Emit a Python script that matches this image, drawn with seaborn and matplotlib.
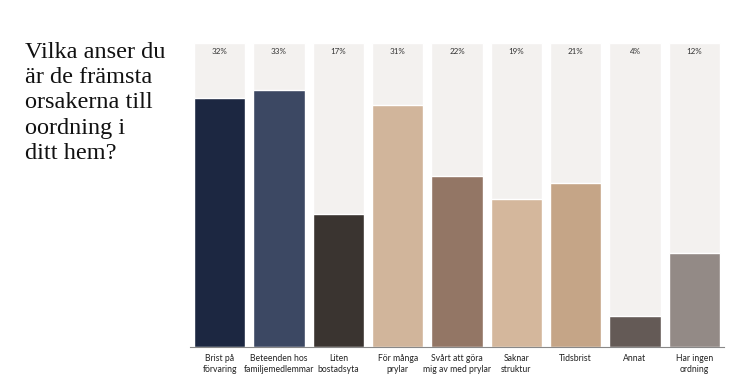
import numpy as np
import pandas as pd
import matplotlib
matplotlib.use("Agg")
import matplotlib.pyplot as plt
import seaborn as sns

# data
categories = [
    "Brist på\nförvaring",
    "Beteenden hos\nfamiljemedlemmar",
    "Liten\nbostadsyta",
    "För många\nprylar",
    "Svårt att göra\nmig av med prylar",
    "Saknar\nstruktur",
    "Tidsbrist",
    "Annat",
    "Har ingen\nordning",
]
values = [32, 33, 17, 31, 22, 19, 21, 4, 12]
colors = ["#1c2741", "#3c4863", "#3a3430", "#d1b59b", "#937665",
          "#d4b79c", "#c5a587", "#645a56", "#938a86"]
scale_max = 39
title = "Vilka anser du\när de främsta\norsakerna till\noordning i\nditt hem?"

df = pd.DataFrame({"category": categories, "value": values})
df["full"] = scale_max

sns.set_style("white")
plt.rcParams["font.family"] = ["Lato", "DejaVu Sans"]

fig = plt.figure(figsize=(7.46, 3.9), dpi=100)
ax = fig.add_axes([0.2547, 0.1103, 0.9705 - 0.2547, 0.8897 - 0.1103])

# light background bars
sns.barplot(data=df, x="category", y="full", color="#f3f1ef",
            width=0.87, saturation=1, ax=ax)
# data bars
sns.barplot(data=df, x="category", y="value", hue="category",
            palette=colors, width=0.87, saturation=1, legend=False, ax=ax)

for i, v in enumerate(values):
    ax.text(i, scale_max - 1.15, f"{v}%", ha="center", va="center",
            fontsize=5.8, color="#333333")

ax.set_ylim(0, scale_max)
ax.set_xlim(-0.5, len(categories) - 0.5)
ax.set_yticks([])
ax.set_xlabel("")
ax.set_ylabel("")
ax.tick_params(axis="x", length=0, pad=5, labelsize=6.2, colors="#222222")
for lbl in ax.get_xticklabels():
    lbl.set_linespacing(1.3)
for s in ["top", "right", "left"]:
    ax.spines[s].set_visible(False)
ax.spines["bottom"].set_color("#888888")
ax.spines["bottom"].set_linewidth(0.8)

fig.text(0.034, 0.893, title, ha="left", va="top", fontsize=17.5,
         family="Liberation Serif", color="#111111", linespacing=1.27)

fig.savefig("out.png", dpi=100)
